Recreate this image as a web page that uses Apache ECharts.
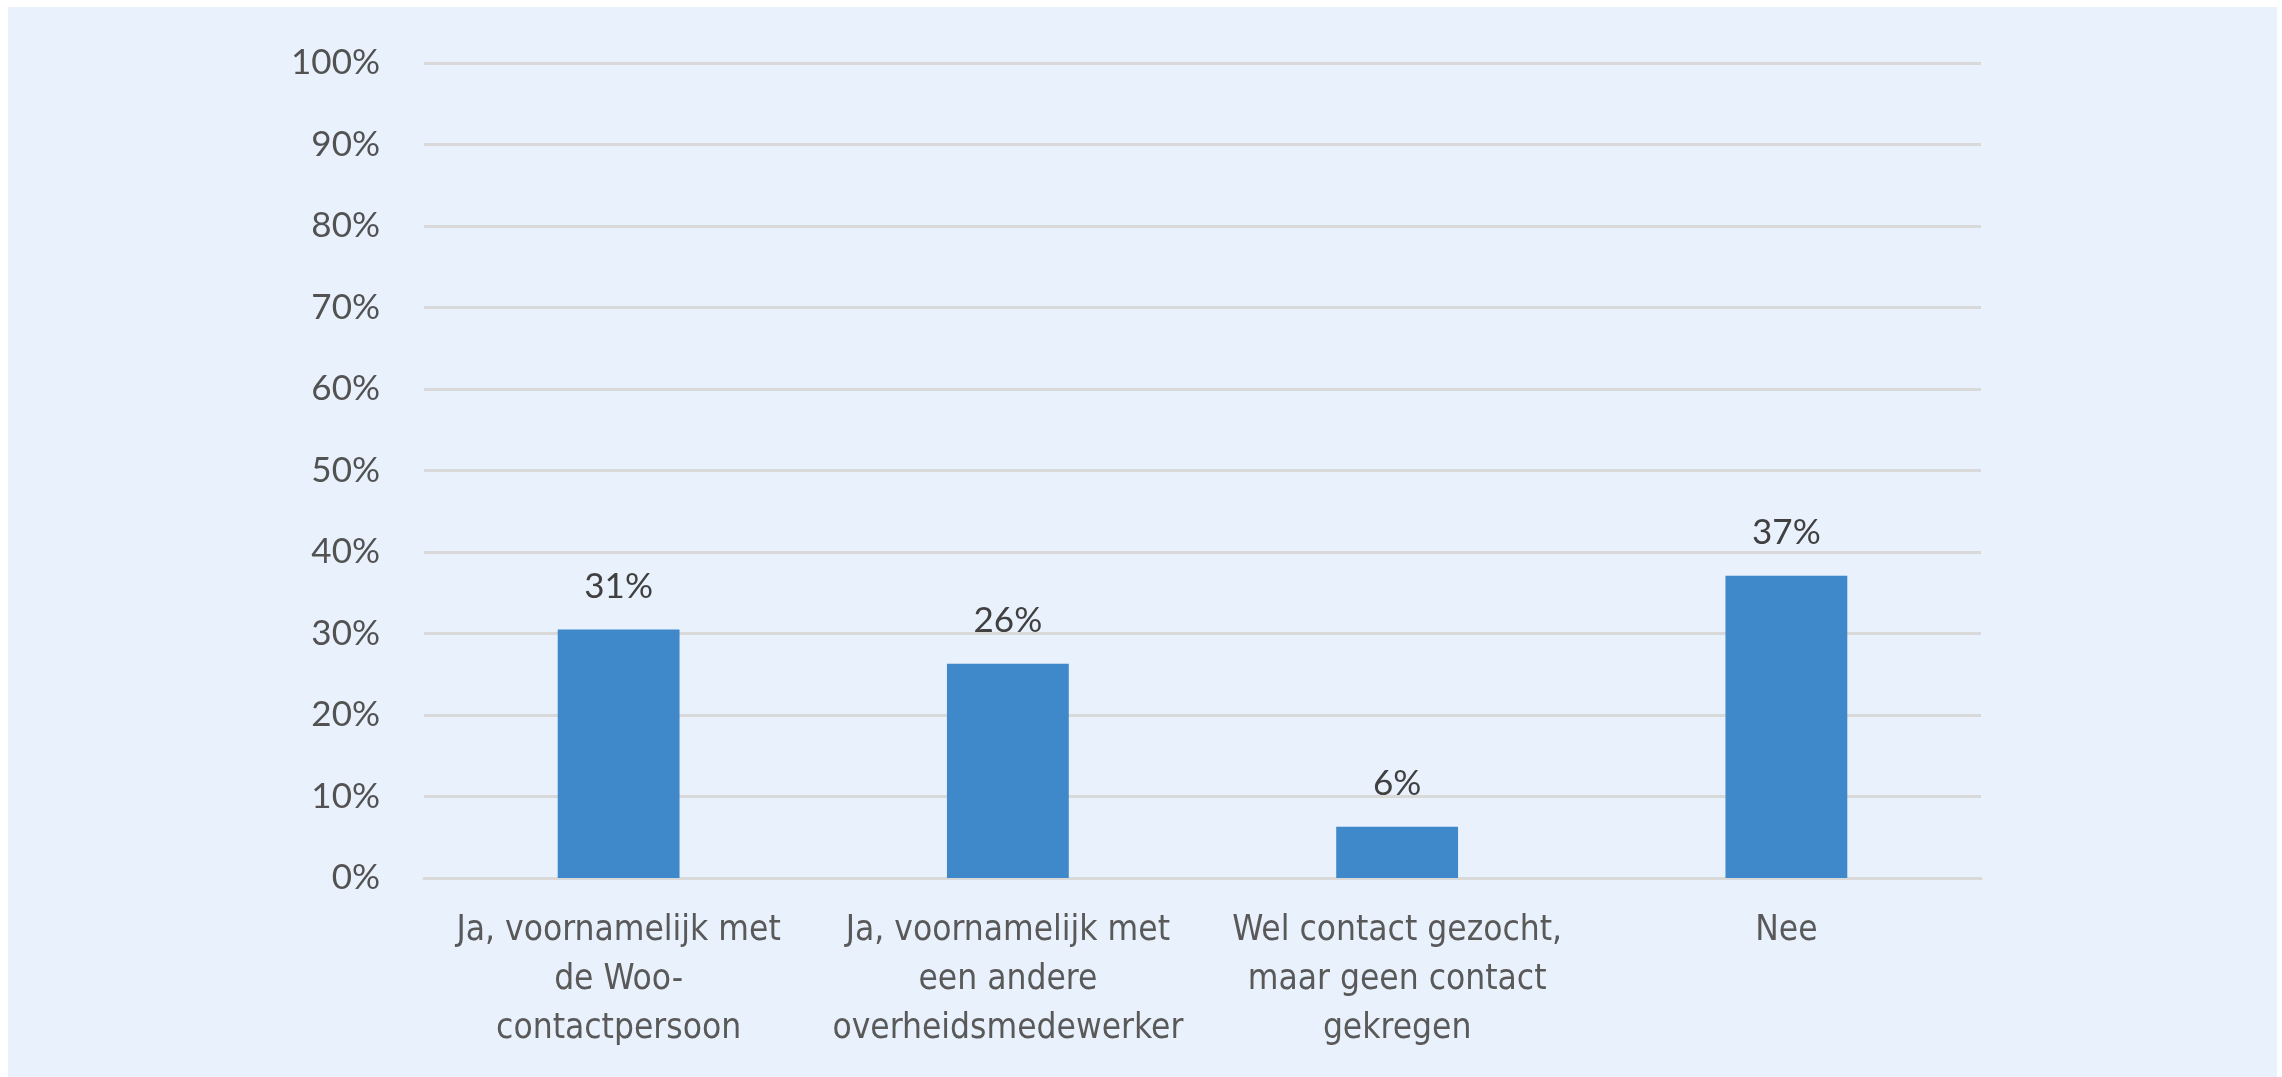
<!DOCTYPE html>
<html>
<head>
<meta charset="utf-8">
<script src="https://cdn.jsdelivr.net/npm/echarts@6/dist/echarts.min.js"></script>
<style>
html,body{margin:0;padding:0;background:#ffffff;}
#panel{position:absolute;left:8px;top:7px;width:2269px;height:1070px;background:#E9F1FD;}
#chart{position:absolute;left:0;top:0;width:2282px;height:1077px;}
</style>
</head>
<body>
<div id="panel"></div>
<div id="chart"></div>
<script>
const categories = [
  "Ja, voornamelijk met\nde Woo-\ncontactpersoon",
  "Ja, voornamelijk met\neen andere\noverheidsmedewerker",
  "Wel contact gezocht,\nmaar geen contact\ngekregen",
  "Nee"
];
const values = [30.5, 26.3, 6.3, 37.1];
const yTicks = { min: 0, max: 100, interval: 10 };

const chart = echarts.init(document.getElementById('chart'), null, {renderer: 'canvas'});
chart.setOption({
  backgroundColor: 'transparent',
  animation: false,
  grid: { left: 424, right: 301, top: 63, bottom: 199, containLabel: false },
  xAxis: {
    type: 'category',
    data: categories,
    axisLine: { show: true, lineStyle: { color: '#D9D9D9', width: 3 } },
    axisTick: { show: false },
    axisLabel: {
      interval: 0,
      margin: 28,
      color: '#595959',
      fontFamily: '"Liberation Sans Narrow", "DejaVu Sans Condensed", "Roboto Condensed", sans-serif',
      fontSize: 35,
      lineHeight: 49
    }
  },
  yAxis: {
    type: 'value',
    min: yTicks.min,
    max: yTicks.max,
    interval: yTicks.interval,
    axisLine: { show: false },
    axisTick: { show: false },
    splitLine: { lineStyle: { color: '#D9D9D9', width: 3 } },
    axisLabel: {
      margin: 44,
      color: '#525252',
      fontFamily: 'Lato, "Open Sans", sans-serif',
      fontSize: 35,
      formatter: v => v + '%'
    }
  },
  series: [{
    type: 'bar',
    data: values,
    barWidth: '31.3%',
    itemStyle: { color: '#3F88CA' },
    label: {
      show: true,
      position: 'top',
      distance: 25,
      color: '#404040',
      fontFamily: 'Lato, "Open Sans", sans-serif',
      fontSize: 35,
      formatter: p => Math.round(p.value) + '%'
    }
  }]
});
</script>
</body>
</html>
